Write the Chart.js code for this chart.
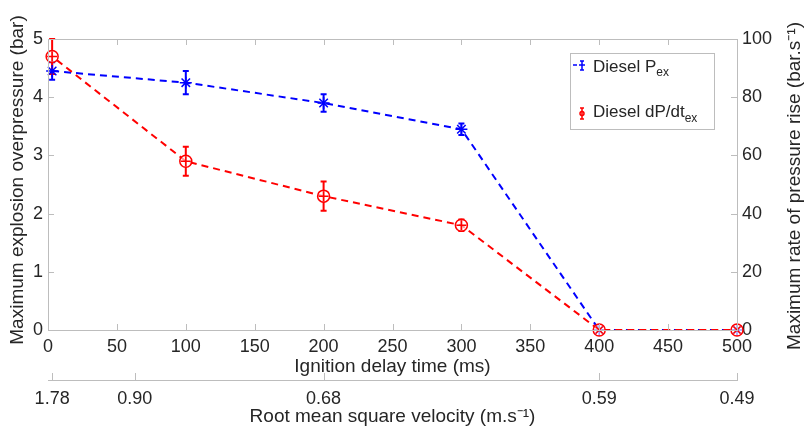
<!DOCTYPE html>
<html lang="en">
<head>
<meta charset="utf-8">
<script src="https://cdn.jsdelivr.net/npm/chart.js@4.4.1/dist/chart.umd.min.js"></script>
<style>
  html, body { margin: 0; padding: 0; background: #fff; }
</style>
</head>
<body>
<canvas id="myChart" width="809" height="432"></canvas>

<script>
// ignition delay time (ms)
var delay = [3, 100, 200, 300, 400, 500];
// Diesel Pex (bar) and its error
var pex = [4.45, 4.25, 3.9, 3.45, 0, 0];
var pexErr = [0.15, 0.2, 0.15, 0.1, 0, 0];
// Diesel dP/dt ex (bar/s) and its error
var dpdt = [94, 58, 46, 36, 0, 0];
var dpdtErr = [6, 5, 5, 2, 0, 0];
// second x axis: rms velocity labels at delay positions
var rmsPos = [3, 63, 200, 400, 500];
var rmsLabels = ['1.78', '0.90', '0.68', '0.59', '0.49'];

var FONT = "'Liberation Sans', Arial, sans-serif";
var TXT = '#262626';
var FRAME = '#bdbdbd';
var BLUE = '#0000ff';
var RED = '#ff0000';

Chart.defaults.font.family = FONT;
Chart.defaults.color = TXT;

function pts(ys) {
  return delay.map(function(x, i) { return { x: x, y: ys[i] }; });
}

// draws a vertical error bar with caps
function errBar(ctx, px, top, bot, cap) {
  ctx.beginPath();
  ctx.moveTo(px, top); ctx.lineTo(px, bot);
  ctx.moveTo(px - cap, top); ctx.lineTo(px + cap, top);
  ctx.moveTo(px - cap, bot); ctx.lineTo(px + cap, bot);
  ctx.stroke();
}

var extras = {
  id: 'extras',
  beforeDatasetsDraw: function(chart) {
    var ctx = chart.ctx, x = chart.scales.x;
    ctx.save();
    ctx.lineWidth = 2;
    ctx.setLineDash([]);
    ctx.strokeStyle = BLUE;
    for (var i = 0; i < delay.length; i++) {
      if (!pexErr[i]) continue;
      var y = chart.scales.y;
      errBar(ctx, x.getPixelForValue(delay[i]), y.getPixelForValue(pex[i] + pexErr[i]), y.getPixelForValue(pex[i] - pexErr[i]), 3);
    }
    ctx.strokeStyle = RED;
    for (var j = 0; j < delay.length; j++) {
      if (!dpdtErr[j]) continue;
      var y2 = chart.scales.y2;
      errBar(ctx, x.getPixelForValue(delay[j]), y2.getPixelForValue(dpdt[j] + dpdtErr[j]), y2.getPixelForValue(dpdt[j] - dpdtErr[j]), 3);
    }
    ctx.restore();
  },
  afterDraw: function(chart) {
    var ctx = chart.ctx, a = chart.chartArea, s = chart.scales;
    ctx.save();
    // frame + inward ticks
    ctx.strokeStyle = FRAME;
    ctx.lineWidth = 1;
    ctx.strokeRect(Math.round(a.left) + 0.5, Math.round(a.top) + 0.5, Math.round(a.right - a.left), Math.round(a.bottom - a.top));
    ctx.beginPath();
    s.x.ticks.forEach(function(t) {
      var p = Math.round(s.x.getPixelForValue(t.value)) + 0.5;
      ctx.moveTo(p, a.bottom); ctx.lineTo(p, a.bottom - 6);
      ctx.moveTo(p, a.top); ctx.lineTo(p, a.top + 6);
    });
    s.y.ticks.forEach(function(t) {
      var p = Math.round(s.y.getPixelForValue(t.value)) + 0.5;
      ctx.moveTo(a.left, p); ctx.lineTo(a.left + 6, p);
    });
    s.y2.ticks.forEach(function(t) {
      var p = Math.round(s.y2.getPixelForValue(t.value)) + 0.5;
      ctx.moveTo(a.right, p); ctx.lineTo(a.right - 6, p);
    });
    s.x2.ticks.forEach(function(t) {
      var p = Math.round(s.x2.getPixelForValue(t.value)) + 0.5;
      ctx.moveTo(p, s.x2.top); ctx.lineTo(p, s.x2.top - 7);
    });
    ctx.stroke();

    // y axis titles (both read bottom to top)
    ctx.fillStyle = TXT;
    ctx.font = '19px ' + FONT;
    ctx.textAlign = 'center';
    ctx.textBaseline = 'middle';
    ctx.save();
    ctx.translate(18, 180);
    ctx.rotate(-Math.PI / 2);
    ctx.fillText('Maximum explosion overpressure (bar)', 0, 0);
    ctx.restore();
    ctx.save();
    ctx.translate(795, 186);
    ctx.rotate(-Math.PI / 2);
    ctx.fillText('Maximum rate of pressure rise (bar.s\u207B\u00B9)', 0, 0);
    ctx.restore();

    // legend
    ctx.fillStyle = '#fff';
    ctx.fillRect(570, 53, 144, 76);
    ctx.strokeStyle = FRAME;
    ctx.strokeRect(570.5, 53.5, 144, 76);
    ctx.lineWidth = 1.5;
    ctx.strokeStyle = BLUE;
    ctx.beginPath(); ctx.moveTo(573, 65); ctx.lineTo(577, 65); ctx.stroke();
    errBar(ctx, 582, 61, 70, 2);
    ctx.beginPath(); ctx.moveTo(579, 65); ctx.lineTo(585, 65); ctx.stroke();
    ctx.strokeStyle = RED;
    errBar(ctx, 582, 108, 119, 2);
    ctx.beginPath(); ctx.arc(582, 113.5, 2, 0, Math.PI * 2); ctx.stroke();

    ctx.fillStyle = TXT;
    ctx.textAlign = 'left';
    ctx.textBaseline = 'alphabetic';
    ctx.font = '17px ' + FONT;
    ctx.fillText('Diesel P', 593, 72);
    var w1 = ctx.measureText('Diesel P').width;
    ctx.fillText('Diesel dP/dt', 593, 117);
    var w2 = ctx.measureText('Diesel dP/dt').width;
    ctx.font = '12px ' + FONT;
    ctx.fillText('ex', 593 + w1, 76);
    ctx.fillText('ex', 593 + w2, 122);
    ctx.restore();
  }
};

var ctx = document.getElementById('myChart').getContext('2d');
var myChart = new Chart(ctx, {
  type: 'line',
  data: {
    datasets: [{
      label: 'Diesel Pex',
      data: pts(pex),
      yAxisID: 'y',
      borderColor: BLUE,
      borderWidth: 2,
      borderDash: [7, 5],
      pointStyle: 'star',
      pointRadius: 6,
      pointBorderWidth: 1.5,
      pointBorderColor: BLUE,
      pointBackgroundColor: BLUE,
      clip: false,
      order: 2
    }, {
      label: 'Diesel dP/dtex',
      data: pts(dpdt),
      yAxisID: 'y2',
      borderColor: RED,
      borderWidth: 2,
      borderDash: [7, 5],
      borderDashOffset: 6,
      pointStyle: 'circle',
      pointRadius: 6,
      pointBorderWidth: 1.5,
      pointBorderColor: RED,
      pointBackgroundColor: 'rgba(255,255,255,0.6)',
      clip: false,
      order: 1
    }, {
      label: 'marks',
      data: pts(dpdt),
      yAxisID: 'y2',
      showLine: false,
      pointStyle: ['cross', 'cross', 'cross', 'cross', 'crossRot', 'crossRot'],
      pointRadius: 5,
      pointBorderWidth: 1.5,
      pointBorderColor: RED,
      clip: false,
      order: 0
    }]
  },
  options: {
    responsive: false,
    animation: false,
    layout: { padding: { top: 39, left: 0, right: 0, bottom: 0 } },
    plugins: { legend: { display: false }, tooltip: { enabled: false } },
    scales: {
      x: {
        type: 'linear', position: 'bottom', weight: 1,
        min: 0, max: 500,
        ticks: { stepSize: 50, font: { size: 18 }, padding: 6, maxRotation: 0, color: TXT },
        grid: { drawOnChartArea: false, drawTicks: false },
        border: { display: false },
        title: { display: true, text: 'Ignition delay time (ms)', font: { size: 19 }, padding: { top: 0, bottom: 2 }, color: TXT },
        afterFit: function(sc) { sc.height = 50; }
      },
      x2: {
        type: 'linear', position: 'bottom', weight: 2,
        min: 0, max: 500,
        afterBuildTicks: function(sc) { sc.ticks = rmsPos.map(function(v) { return { value: v }; }); },
        ticks: {
          autoSkip: false, maxRotation: 0, font: { size: 18 }, padding: 8, color: TXT,
          callback: function(v, i) { return rmsLabels[i]; }
        },
        grid: { drawOnChartArea: false, drawTicks: false },
        border: { display: true, color: FRAME, width: 1 },
        title: { display: true, text: 'Root mean square velocity (m.s\u207B\u00B9)', font: { size: 19 }, padding: { top: 0, bottom: 4 }, color: TXT },
        afterFit: function(sc) { sc.height = 52; }
      },
      y: {
        position: 'left',
        min: 0, max: 5,
        ticks: { stepSize: 1, font: { size: 18 }, padding: 5, color: TXT },
        grid: { drawOnChartArea: false, drawTicks: false },
        border: { display: false },
        afterFit: function(sc) { sc.width = 48; }
      },
      y2: {
        position: 'right',
        min: 0, max: 100,
        ticks: { stepSize: 20, font: { size: 18 }, padding: 5, color: TXT },
        grid: { drawOnChartArea: false, drawTicks: false },
        border: { display: false },
        afterFit: function(sc) { sc.width = 72; }
      }
    }
  },
  plugins: [extras]
});
</script>
</body>
</html>
